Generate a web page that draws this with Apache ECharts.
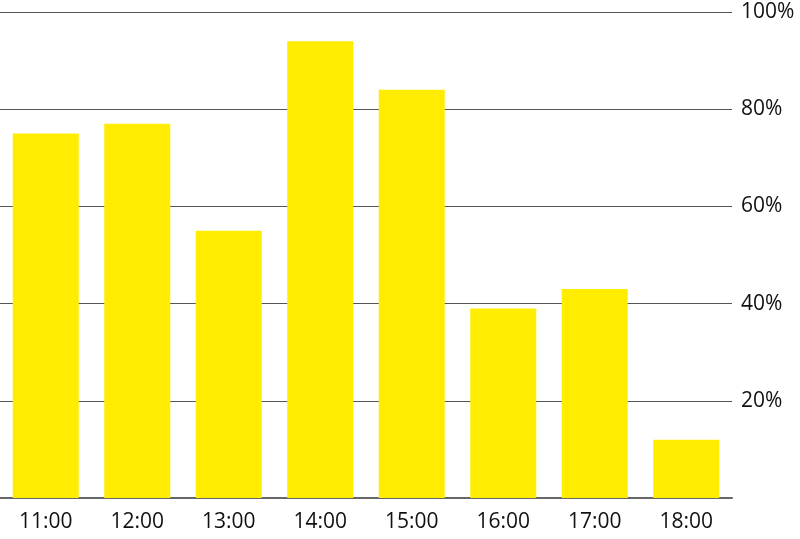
<!DOCTYPE html>
<html><head><meta charset="utf-8">
<script src="https://cdn.jsdelivr.net/npm/echarts@6/dist/echarts.min.js"></script>
<style>html,body{margin:0;padding:0;background:#fff}#c{width:800px;height:539px}</style>
</head><body><div id="c"></div>
<script>
const categories = ['11:00','12:00','13:00','14:00','15:00','16:00','17:00','18:00'];
const values = [75, 77, 55, 94, 84, 39, 43, 12];
const yTicks = [0, 20, 40, 60, 80, 100];

const chart = echarts.init(document.getElementById('c'), null, {renderer:'canvas'});
chart.setOption({
  animation: false,
  backgroundColor: '#fff',
  grid: {left: 0, right: 68, top: 12, bottom: 41, containLabel: false},
  xAxis: {
    type: 'category', data: categories,
    axisLine: {show: true, lineStyle: {color: '#666', width: 2}},
    axisTick: {show: false},
    axisLabel: {color: '#111', fontSize: 21, fontFamily: 'Open Sans', margin: 14}
  },
  yAxis: {
    type: 'value', position: 'right', min: yTicks[0], max: yTicks[yTicks.length-1], interval: 20,
    axisLine: {show: false}, axisTick: {show: false},
    axisLabel: {color: '#111', fontSize: 21, fontFamily: 'Open Sans', margin: 9, padding: [4, 0, 0, 0],
      formatter: v => v === 0 ? '' : v + '%'},
    splitLine: {lineStyle: {color: '#555', width: 1}}
  },
  series: [{
    type: 'bar', data: values, barWidth: 66,
    itemStyle: {color: '#FFEC00'}
  }]
});
</script></body></html>
